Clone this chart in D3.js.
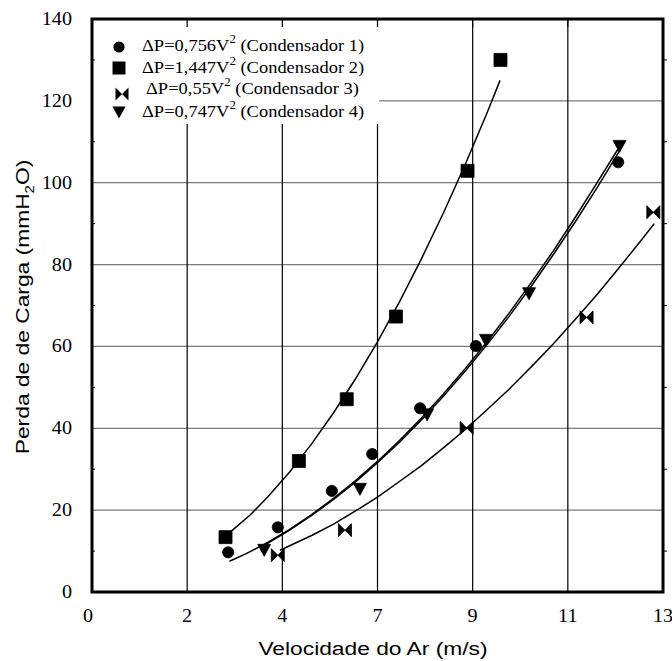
<!DOCTYPE html>
<html><head><meta charset="utf-8">
<script src="https://cdn.jsdelivr.net/npm/d3@7"></script>
<style>body{margin:0;background:#fff}</style>
</head><body>
<svg id="c" width="672" height="661"></svg>
<script>
// ---- data ----
const xTickValues = [0, 2.1667, 4.3333, 6.5, 8.6667, 10.8333, 13];
const xTickLabels = ["0", "2", "4", "7", "9", "11", "13"];
const yTickValues = [0, 20, 40, 60, 80, 100, 120, 140];
const yMinorTicks = [10, 30, 50, 70, 90, 110, 130];

// measured points
const c1V = [3.10, 4.23, 5.46, 6.38, 7.47, 8.74, 11.98];
const c1P = [9.7, 15.8, 24.7, 33.7, 44.9, 60.1, 105.0];
const c2V = [3.04, 4.71, 5.80, 6.92, 8.55, 9.30];
const c2P = [13.4, 32.0, 47.1, 67.3, 102.9, 130.0];
const c3V = [4.23, 5.76, 8.53, 11.26, 12.78];
const c3P = [9.0, 15.1, 40.1, 67.1, 92.8];
const c4V = [3.92, 6.10, 7.63, 8.97, 9.95, 12.01];
const c4P = [10.3, 25.2, 43.4, 61.6, 73.0, 109.0];

// fitted curves as drawn
const f1V = [3.13, 3.5, 4.0, 4.5, 5.0, 5.5, 6.0, 6.5, 7.0, 7.5, 8.0, 8.5, 9.0, 9.5, 10.0, 10.5, 11.0, 11.5, 11.98];
const f1P = [7.5, 9.3, 12.1, 15.3, 18.9, 22.9, 27.2, 31.9, 37.0, 42.5, 48.4, 54.6, 61.2, 68.2, 75.6, 83.3, 91.5, 100.0, 108.3];
const f2V = [3.10, 3.6, 4.0, 4.5, 5.0, 5.5, 6.0, 6.5, 7.0, 7.5, 8.0, 8.5, 9.0, 9.29];
const f2P = [14.2, 18.8, 23.2, 29.3, 36.2, 43.8, 52.1, 61.1, 70.9, 81.4, 92.6, 104.5, 117.2, 125.0];
const f3V = [4.28, 5.0, 5.5, 6.0, 6.5, 7.0, 7.5, 8.0, 8.5, 9.0, 9.5, 10.0, 10.5, 11.0, 11.5, 12.0, 12.5, 12.8];
const f3P = [10.2, 13.8, 16.6, 19.8, 23.2, 27.0, 30.9, 35.2, 39.7, 44.6, 49.6, 55.0, 60.6, 66.6, 72.7, 79.2, 85.9, 90.0];
const f4V = [3.92, 4.5, 5.0, 5.5, 6.0, 6.5, 7.0, 7.5, 8.0, 8.5, 9.0, 9.5, 10.0, 10.5, 11.0, 11.5, 12.01];
const f4P = [11.4, 15.1, 18.7, 22.6, 26.9, 31.6, 36.6, 42.0, 47.8, 54.0, 60.5, 67.4, 74.7, 82.4, 90.4, 98.8, 107.8];

const legendCoef = ["0,756", "1,447", "0,55", "0,747"];
const legendName = ["(Condensador 1)", "(Condensador 2)", "(Condensador 3)", "(Condensador 4)"];

// ---- layout ----
const L = 92, R = 663, T = 19, B = 592;
const x = d3.scaleLinear().domain([0, 13]).range([L, R]);
const y = d3.scaleLinear().domain([0, 140]).range([B, T]);
const svg = d3.select("#c");
const serif = "'Liberation Serif','Times New Roman',serif";
const sans = "'Liberation Sans',Arial,sans-serif";
const SX = 1.12;
const SXT = 1.2;

// gridlines
svg.append("g").selectAll("line").data(yTickValues.slice(1, -1)).join("line")
  .attr("x1", L).attr("x2", R).attr("y1", d => y(d)).attr("y2", d => y(d))
  .attr("stroke", "#7a7a7a").attr("stroke-width", 1.2);
svg.append("g").selectAll("line").data(xTickValues.slice(1, -1)).join("line")
  .attr("x1", d => x(d)).attr("x2", d => x(d)).attr("y1", T).attr("y2", B)
  .attr("stroke", "#000").attr("stroke-width", 1.2);

// curves
const line = d3.line().x(d => x(d[0])).y(d => y(d[1]));
const zip = (a, b) => a.map((v, i) => [v, b[i]]);
[[f2V, f2P], [f3V, f3P], [f1V, f1P], [f4V, f4P]].forEach(([a, b]) => {
  svg.append("path").datum(zip(a, b)).attr("d", line)
    .attr("fill", "none").attr("stroke", "#000").attr("stroke-width", 1.5);
});

// marker shapes
const shapes = {
  circle: "M5.6,0A5.6,5.6,0,1,1,-5.6,0A5.6,5.6,0,1,1,5.6,0Z",
  square: "M-6.5,-6.5H6.5V6.5H-6.5Z",
  bowtie: "M-6.5,-6.5L0,0L-6.5,6.5ZM6.5,-6.5L0,0L6.5,6.5Z",
  tri: "M-6.5,-5.5L6.5,-5.5L0,6.5Z"
};
const series = [[c1V, c1P, "circle"], [c2V, c2P, "square"], [c3V, c3P, "bowtie"], [c4V, c4P, "tri"]];
series.forEach(([a, b, s]) => {
  svg.append("g").selectAll("path").data(zip(a, b)).join("path")
    .attr("transform", d => `translate(${x(d[0])},${y(d[1])})`)
    .attr("d", shapes[s]).attr("fill", "#000").attr("stroke", "#000").attr("stroke-width", 0.8);
});

// legend
svg.append("rect").attr("x", L + 1).attr("y", T + 1).attr("width", 286).attr("height", 104).attr("fill", "#fff");
const legSym = ["circle", "square", "bowtie", "tri"];
const legSymPos = [[119, 47], [119, 68], [122, 94], [119, 112]];
const legTextPos = [[142, 51], [142, 73], [146, 94], [142, 117]];
legSym.forEach((s, i) => {
  svg.append("path").attr("transform", `translate(${legSymPos[i][0]},${legSymPos[i][1]})`)
    .attr("d", shapes[s]).attr("fill", "#000");
  const t = svg.append("text").attr("transform", `translate(${legTextPos[i][0]},${legTextPos[i][1]}) scale(${SX},1)`)
    .attr("font-family", serif).attr("font-size", 16.5);
  t.append("tspan").text("\u0394P=" + legendCoef[i] + "V");
  t.append("tspan").attr("dy", -8).attr("font-size", 11.5).text("2");
  t.append("tspan").attr("dy", 8).text(" " + legendName[i]);
});

// frame
svg.append("rect").attr("x", L).attr("y", T).attr("width", R - L).attr("height", B - T)
  .attr("fill", "none").attr("stroke", "#000").attr("stroke-width", 3);

// minor ticks
svg.append("g").selectAll("line").data(yMinorTicks).join("line")
  .attr("x1", R + 1).attr("x2", R + 4).attr("y1", d => y(d)).attr("y2", d => y(d)).attr("stroke", "#000");
svg.append("g").selectAll("line").data(yMinorTicks).join("line")
  .attr("x1", L + 1).attr("x2", L + 3).attr("y1", d => y(d)).attr("y2", d => y(d)).attr("stroke", "#000");
svg.append("g").selectAll("line").data(xTickValues.slice(1, -1)).join("line")
  .attr("x1", d => x(d)).attr("x2", d => x(d)).attr("y1", T).attr("y2", T + 8).attr("stroke", "#000").attr("stroke-width", 1.2);

// tick labels
svg.append("g").selectAll("text").data(yTickValues).join("text")
  .attr("transform", d => `translate(72,${y(d) + 6}) scale(${SX},1)`)
  .attr("text-anchor", "end").attr("font-family", serif).attr("font-size", 18)
  .text(d => d);
svg.append("g").selectAll("text").data(xTickValues).join("text")
  .attr("transform", (d, i) => `translate(${x(d) - (i === 0 ? 4 : 0)},622) scale(${SX},1)`)
  .attr("text-anchor", "middle").attr("font-family", serif).attr("font-size", 18)
  .text((d, i) => xTickLabels[i]);

// axis titles
svg.append("text").attr("transform", `translate(373,655) scale(${SXT},1)`)
  .attr("text-anchor", "middle").attr("font-family", sans).attr("font-size", 19)
  .text("Velocidade do Ar (m/s)");
const yt = svg.append("text").attr("transform", `translate(29,307) rotate(-90) scale(${SXT},1)`)
  .attr("text-anchor", "middle").attr("font-family", sans).attr("font-size", 19);
yt.append("tspan").text("Perda de de Carga (mmH");
yt.append("tspan").attr("dy", 5).attr("font-size", 12.5).text("2");
yt.append("tspan").attr("dy", -5).text("O)");
</script>
</body></html>
